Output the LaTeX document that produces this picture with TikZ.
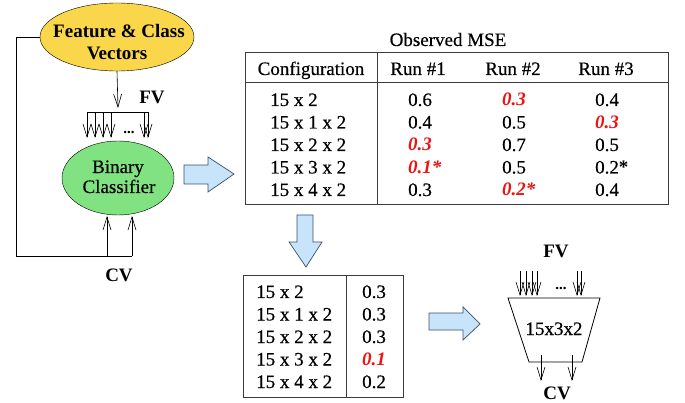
\documentclass[tikz,border=0pt]{standalone}
\usepackage{fontspec}
\setmainfont{Liberation Serif}[UprightFeatures={FakeBold=0.4},ItalicFeatures={FakeBold=0.4}]
\usetikzlibrary{arrows.meta,shapes.geometric}
\definecolor{ylw}{RGB}{250,214,75}
\definecolor{grn}{RGB}{128,226,128}
\definecolor{bfill}{RGB}{200,228,250}
\definecolor{bline}{RGB}{60,80,100}
\definecolor{rd}{RGB}{235,20,20}
\definecolor{tline}{RGB}{60,60,60}
\begin{document}
\begin{tikzpicture}[x=1pt,y=-1pt,
  txt/.style={font=\fontsize{19}{21}\selectfont, inner sep=0pt},
  btxt/.style={font=\fontsize{19}{21}\selectfont\bfseries, inner sep=0pt},
  rtxt/.style={font=\fontsize{19}{21}\selectfont\bfseries\itshape, text=rd, inner sep=0pt},
  arr/.style={-{Straight Barb[length=13pt,width=8pt]}, line width=0.6pt},
  wire/.style={line width=0.6pt},
  blk/.style={draw=bline, fill=bfill, line width=0.7pt, line join=miter},
  tbl/.style={draw=tline, line width=1pt}]
\useasboundingbox (0,0) rectangle (685,403);

% ---------- left part ----------
\node[ellipse, draw, fill=ylw, minimum width=154pt, minimum height=68pt, inner sep=0pt] (fcv) at (117,37) {};
\node[btxt, anchor=base] (fcvt1) at (119,38) {Feature \& Class};
\node[btxt, anchor=base] (fcvt2) at (117,60) {Vectors};

\node[ellipse, draw, fill=grn, minimum width=112pt, minimum height=74pt, inner sep=0pt] (bc) at (118,178) {};
\node[txt, anchor=base] (bct1) at (118,173) {Binary};
\node[txt, anchor=base] (bct2) at (119,193) {Classifier};

\node[btxt, anchor=base] (fvl) at (152,104) {FV};
\node[btxt, anchor=base] (cvl) at (119,281) {CV};

% FV arrow and bus
\coordinate (fvend) at (118,108);
\draw[arr] (fcv.south) -- (fvend);
\coordinate (busL) at (87,112);
\coordinate (busR) at (148,112);
\draw[wire] (busL) -- (busR);
\foreach \x [count=\i] in {87,95,103,111,144,148} {
  \coordinate (bt\i) at (\x,112);
  \coordinate (bb\i) at (\x,138);
  \draw[arr] (bt\i) -- (bb\i);
}
\node[txt, anchor=base, font=\fontsize{15}{17}\selectfont\bfseries] (dots1) at (129,134) {...};

% feedback line
\coordinate (fb1) at (16,37);
\coordinate (fb2) at (16,256);
\coordinate (fb3) at (132,256);
\coordinate (fb4) at (107,256);
\coordinate (up1) at (107,216);
\coordinate (up2) at (132,216);
\draw[wire] (fcv.west) -- (fb1) -- (fb2) -- (fb3);
\draw[arr] (fb4) -- (up1);
\draw[arr] (fb3) -- (up2);

% block arrow right
\draw[blk] (184,165) -- (208,165) -- (208,157) -- (234,174) -- (208,192) -- (208,184) -- (184,184) -- cycle;

% ---------- main table ----------
\node[txt, anchor=base] (omse) at (448,46) {Observed MSE};
\draw[tbl] (245,53) rectangle (668,205);
\draw[tbl] (245,83) -- (668,83);
\draw[tbl] (377,53) -- (377,205);
\node[txt, anchor=base] (h0) at (311,75) {Configuration};
\node[txt, anchor=base] (h1) at (418,75) {Run \#1};
\node[txt, anchor=base] (h2) at (513,75) {Run \#2};
\node[txt, anchor=base] (h3) at (606,75) {Run \#3};

\foreach \lab [count=\i] in {15 x 2, 15 x 1 x 2, 15 x 2 x 2, 15 x 3 x 2, 15 x 4 x 2} {
  \node[txt, anchor=base west] (c\i) at (270,{106+22.5*(\i-1)}) {\lab};
}
% run 1
\node[txt, anchor=base west] (r11) at (408,106) {0.6};
\node[txt, anchor=base west] (r12) at (408,128.5) {0.4};
\node[rtxt, anchor=base west] (r13) at (408,151) {0.3};
\node[rtxt, anchor=base west] (r14) at (408,173.5) {0.1*};
\node[txt, anchor=base west] (r15) at (408,196) {0.3};
% run 2
\node[rtxt, anchor=base west] (r21) at (502,106) {0.3};
\node[txt, anchor=base west] (r22) at (502,128.5) {0.5};
\node[txt, anchor=base west] (r23) at (502,151) {0.7};
\node[txt, anchor=base west] (r24) at (502,173.5) {0.5};
\node[rtxt, anchor=base west] (r25) at (502,196) {0.2*};
% run 3
\node[txt, anchor=base west] (r31) at (595,106) {0.4};
\node[rtxt, anchor=base west] (r32) at (595,128.5) {0.3};
\node[txt, anchor=base west] (r33) at (595,151) {0.5};
\node[txt, anchor=base west] (r34) at (595,173.5) {0.2\textbf{*}};
\node[txt, anchor=base west] (r35) at (595,196) {0.4};

% block arrow down
\draw[blk] (297,215) -- (313,215) -- (313,242) -- (322,242) -- (306,267) -- (289,242) -- (297,242) -- cycle;

% ---------- bottom table ----------
\draw[tbl] (243,276) rectangle (403,397);
\draw[tbl] (346,276) -- (346,397);
\foreach \lab [count=\i] in {15 x 2, 15 x 1 x 2, 15 x 2 x 2, 15 x 3 x 2, 15 x 4 x 2} {
  \node[txt, anchor=base west] (d\i) at (256,{298+22.5*(\i-1)}) {\lab};
}
\node[txt, anchor=base west] (v1) at (362,298) {0.3};
\node[txt, anchor=base west] (v2) at (362,320.5) {0.3};
\node[txt, anchor=base west] (v3) at (362,343) {0.3};
\node[rtxt, anchor=base west] (v4) at (362,365.5) {0.1};
\node[txt, anchor=base west] (v5) at (362,388) {0.2};

% block arrow right (bottom)
\draw[blk] (429,313) -- (463,313) -- (463,307) -- (480,324) -- (463,340) -- (463,330) -- (429,330) -- cycle;

% ---------- trapezoid network ----------
\draw[wire, line width=0.8pt] (508,298) -- (600,298) -- (582,362) -- (529,362) -- cycle;
\node[txt, anchor=base] (net) at (554,335) {15x3x2};
\node[btxt, anchor=base] (fv2) at (556,258) {FV};
\foreach \x [count=\i] in {520,526,532,537,577,581} {
  \coordinate (tt\i) at (\x,271);
  \coordinate (tb\i) at (\x,296);
  \draw[arr] (tt\i) -- (tb\i);
}
\node[txt, anchor=base, font=\fontsize{15}{17}\selectfont\bfseries] (dots2) at (561,290) {...};
\coordinate (o1a) at (541,355);
\coordinate (o1b) at (541,381);
\coordinate (o2a) at (572,355);
\coordinate (o2b) at (572,381);
\draw[arr] (o1a) -- (o1b);
\draw[arr] (o2a) -- (o2b);
\node[btxt, anchor=base] (cv2) at (557,399) {CV};
\end{tikzpicture}
\end{document}
